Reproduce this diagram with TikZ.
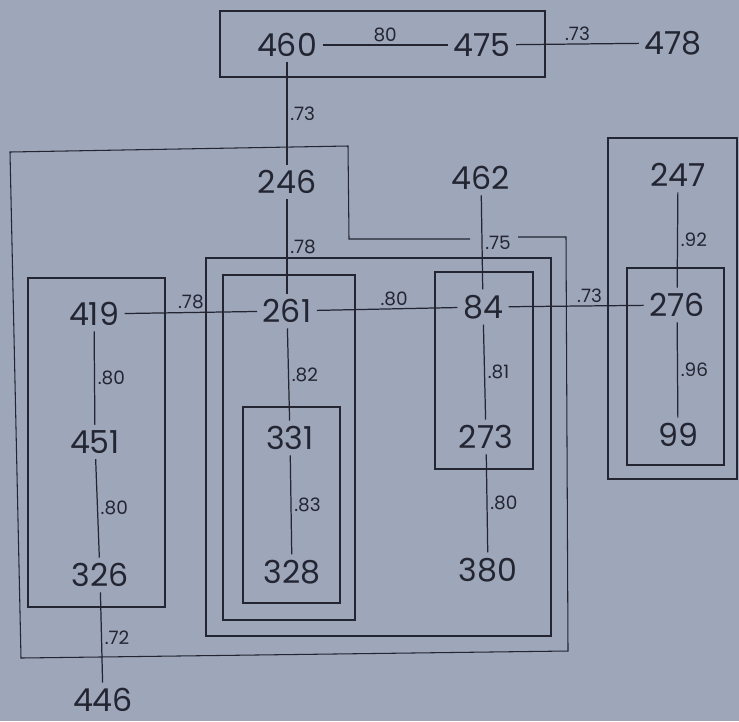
\documentclass[tikz,border=0pt]{standalone}
\usepackage{fontspec}
\setmainfont{Poppins}
\usetikzlibrary{positioning}
\definecolor{paper}{RGB}{158,166,186}
\definecolor{ink}{RGB}{35,38,50}

\tikzset{
  num/.style={font=\fontsize{18}{20}\selectfont, text=ink, inner sep=3pt},
  wt/.style={font=\fontsize{10.5}{12}\selectfont, text=ink, inner sep=1.5pt},
  link/.style={draw=ink, line width=0.7pt},
  group/.style={draw=ink, line width=0.6pt},
}

\begin{document}
\begin{tikzpicture}[x=0.02cm,y=-0.02cm]
        \fill[paper] (0,0) rectangle (739,721);

        % clusters
        \draw[group] (220,11) rectangle (545,77);
        \draw[group] (518,237) -- (566,237) -- (568,651) -- (21,658) -- (10,152)
                     -- (348,146) -- (349,239) -- (470,239);
        \draw[group] (28,278) rectangle (165,607);
        \draw[group] (206,258) rectangle (551,636);
        \draw[group] (223,275) rectangle (355,620);
        \draw[group] (243,407) rectangle (340,603);
        \draw[group] (435,272) rectangle (533,469);
        \draw[group] (608,138) rectangle (737,479);
        \draw[group] (627,268) rectangle (724,465);

        % variables
        \node[num] (n460) at (287,45) {460};
        \node[num] (n475) at (482,45) {475};
        \node[num] (n478) at (673,43) {478};

        \node[num] (n246) at (287,182) {246};
        \node[num] (n462) at (481,178) {462};
        \node[num] (n247) at (678,175) {247};

        \node[num] (n419) at (94,314) {419};
        \node[num] (n261) at (287,311) {261};
        \node[num] (n84) at (483,307) {84};
        \node[num] (n276) at (677,305) {276};

        \node[num] (n451) at (95,442) {451};
        \node[num] (n331) at (290,438) {331};
        \node[num] (n273) at (486,437) {273};
        \node[num] (n99) at (678,435) {99};

        \node[num] (n326) at (100,575) {326};
        \node[num] (n328) at (292,572) {328};
        \node[num] (n380) at (488,570) {380};

        \node[num] (n446) at (103,700) {446};

        % links
        \draw[link] (n460) -- node[wt,above]{80} (n475);
        \draw[link] (n475) -- node[wt,above]{.73} (n478);
        \draw[link] (n460) -- node[wt,right]{.73} (n246);
        \draw[link] (n246) -- node[wt,right]{.78} (n261);
        \draw[link] (n462) -- node[wt,right]{.75} (n84);
        \draw[link] (n247) -- node[wt,right]{.92} (n276);

        \draw[link] (n419) -- node[wt,above]{.78} (n261);
        \draw[link] (n261) -- node[wt,above,pos=0.55]{.80} (n84);
        \draw[link] (n84) -- node[wt,above,pos=0.6]{.73} (n276);

        \draw[link] (n419) -- node[wt,right]{.80} (n451);
        \draw[link] (n451) -- node[wt,right]{.80} (n326);
        \draw[link] (n326) -- node[wt,right]{.72} (n446);
        \draw[link] (n261) -- node[wt,right]{.82} (n331);
        \draw[link] (n331) -- node[wt,right]{.83} (n328);
        \draw[link] (n84) -- node[wt,right]{.81} (n273);
        \draw[link] (n273) -- node[wt,right]{.80} (n380);
        \draw[link] (n276) -- node[wt,right]{.96} (n99);
\end{tikzpicture}
\end{document}
